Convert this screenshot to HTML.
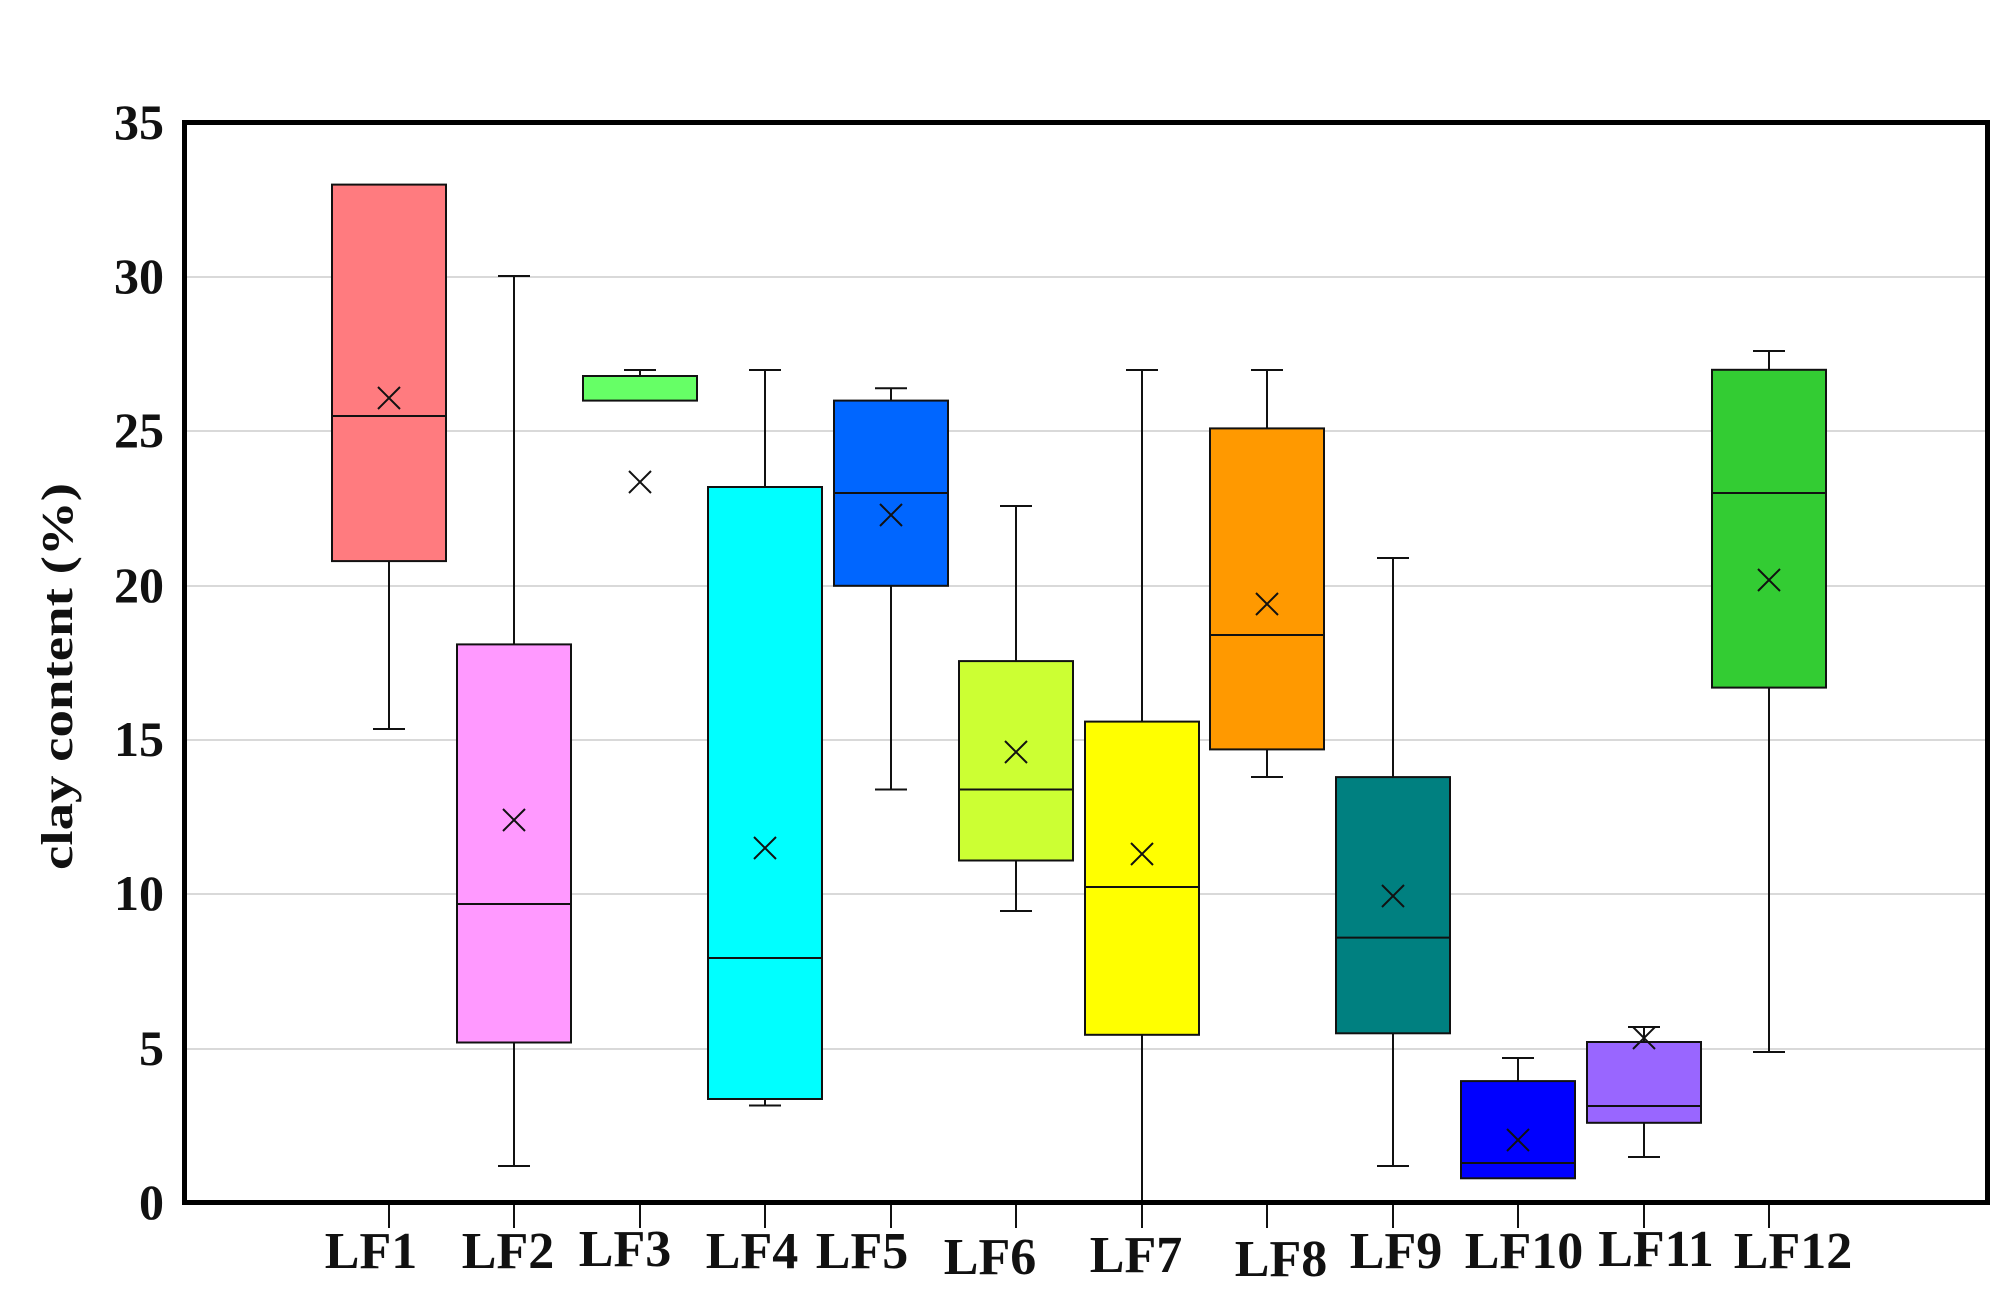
<!DOCTYPE html>
<html><head><meta charset="utf-8"><style>html,body{margin:0;padding:0;background:#fff}svg{display:block}</style></head>
<body>
<svg width="2008" height="1302" viewBox="0 0 2008 1302" xmlns="http://www.w3.org/2000/svg" font-family="Liberation Serif, serif" font-weight="bold">
<rect width="2008" height="1302" fill="#fff"/>
<g stroke="#d9d9d9" stroke-width="2">
<line x1="185" x2="1987" y1="1049" y2="1049"/>
<line x1="185" x2="1987" y1="894" y2="894"/>
<line x1="185" x2="1987" y1="740" y2="740"/>
<line x1="185" x2="1987" y1="586" y2="586"/>
<line x1="185" x2="1987" y1="431" y2="431"/>
<line x1="185" x2="1987" y1="277" y2="277"/>
</g>
<g stroke="#111" stroke-width="2" fill="none">
<path d="M389 561V729M373 729H405"/>
<rect x="332" y="184.6" width="114" height="376.5" fill="#ff7b7f"/>
<path d="M332 416H446M378 387L400 409M400 387L378 409"/>
<path d="M514 1042V1166M498 1166H530M514 644V276M498 276H530"/>
<rect x="457" y="644.4" width="114" height="398.1" fill="#ff99ff"/>
<path d="M457 904H571M503 809L525 831M525 809L503 831"/>
<path d="M640 376V370M624 370H656"/>
<rect x="583" y="376" width="114" height="24.6" fill="#66ff66"/>
<path d="M629 471L651 493M651 471L629 493"/>
<path d="M765 1099V1105.5M749 1105.5H781M765 487V370M749 370H781"/>
<rect x="708" y="487" width="114" height="612" fill="#00ffff"/>
<path d="M708 958H822M754 837L776 859M776 837L754 859"/>
<path d="M891 586V789.5M875 789.5H907M891 400.6V388.3M875 388.3H907"/>
<rect x="834" y="400.6" width="114" height="185.2" fill="#0066ff"/>
<path d="M834 493H948M880 504L902 526M902 504L880 526"/>
<path d="M1016 860V911M1000 911H1032M1016 661V506M1000 506H1032"/>
<rect x="959" y="661.1" width="114" height="199.4" fill="#ccff33"/>
<path d="M959 789.5H1073M1005 741L1027 763M1027 741L1005 763"/>
<path d="M1142 1035V1200M1142 722V370M1126 370H1158"/>
<rect x="1085" y="721.6" width="114" height="313.2" fill="#ffff00"/>
<path d="M1085 887H1199M1131 843L1153 865M1153 843L1131 865"/>
<path d="M1267 749V777M1251 777H1283M1267 428V370M1251 370H1283"/>
<rect x="1210" y="428.4" width="114" height="321" fill="#ff9900"/>
<path d="M1210 635H1324M1256 593L1278 615M1278 593L1256 615"/>
<path d="M1393 1033V1166M1377 1166H1409M1393 777V558M1377 558H1409"/>
<rect x="1336" y="777.1" width="114" height="256.2" fill="#008080"/>
<path d="M1336 937.6H1450M1382 885L1404 907M1404 885L1382 907"/>
<path d="M1518 1081V1058M1502 1058H1534"/>
<rect x="1461" y="1081.1" width="114" height="97.2" fill="#0000ff"/>
<path d="M1461 1163H1575M1507 1129L1529 1151M1529 1129L1507 1151"/>
<path d="M1644 1123V1157M1628 1157H1660M1644 1042V1027M1628 1027H1660"/>
<rect x="1587" y="1042" width="114" height="80.8" fill="#9966ff"/>
<path d="M1587 1106H1701M1633 1027L1655 1049M1655 1027L1633 1049"/>
<path d="M1769 688V1052M1753 1052H1785M1769 370V351M1753 351H1785"/>
<rect x="1712" y="369.8" width="114" height="317.8" fill="#33cc33"/>
<path d="M1712 493H1826M1758 569L1780 591M1780 569L1758 591"/>
</g>
<rect x="184.5" y="122.5" width="1803" height="1080" fill="none" stroke="#000" stroke-width="5"/>
<g stroke="#111" stroke-width="2">
<line x1="389" x2="389" y1="1205" y2="1228"/><line x1="514" x2="514" y1="1205" y2="1228"/><line x1="640" x2="640" y1="1205" y2="1228"/><line x1="765" x2="765" y1="1205" y2="1228"/><line x1="891" x2="891" y1="1205" y2="1228"/><line x1="1016" x2="1016" y1="1205" y2="1228"/><line x1="1142" x2="1142" y1="1205" y2="1228"/><line x1="1267" x2="1267" y1="1205" y2="1228"/><line x1="1393" x2="1393" y1="1205" y2="1228"/><line x1="1518" x2="1518" y1="1205" y2="1228"/><line x1="1644" x2="1644" y1="1205" y2="1228"/><line x1="1769" x2="1769" y1="1205" y2="1228"/>
</g>
<g font-size="50" text-anchor="end" fill="#111">
<text x="164" y="139">35</text><text x="164" y="293">30</text><text x="164" y="447">25</text><text x="164" y="602">20</text><text x="164" y="756">15</text><text x="164" y="910">10</text><text x="164" y="1065">5</text><text x="164" y="1219">0</text>
</g>
<g font-size="52" text-anchor="middle" fill="#111">
<text x="371" y="1268">LF1</text><text x="508" y="1268">LF2</text><text x="625" y="1266">LF3</text><text x="752" y="1268">LF4</text><text x="862" y="1268">LF5</text><text x="990" y="1274">LF6</text><text x="1136" y="1272">LF7</text><text x="1281" y="1276">LF8</text><text x="1396" y="1268">LF9</text><text x="1524" y="1268">LF10</text><text x="1656" y="1266">LF11</text><text x="1793" y="1268">LF12</text>
</g>
<text transform="translate(72,870) rotate(-90)" font-size="44" textLength="387" lengthAdjust="spacingAndGlyphs" fill="#111">clay content (%)</text>
</svg>
</body></html>
